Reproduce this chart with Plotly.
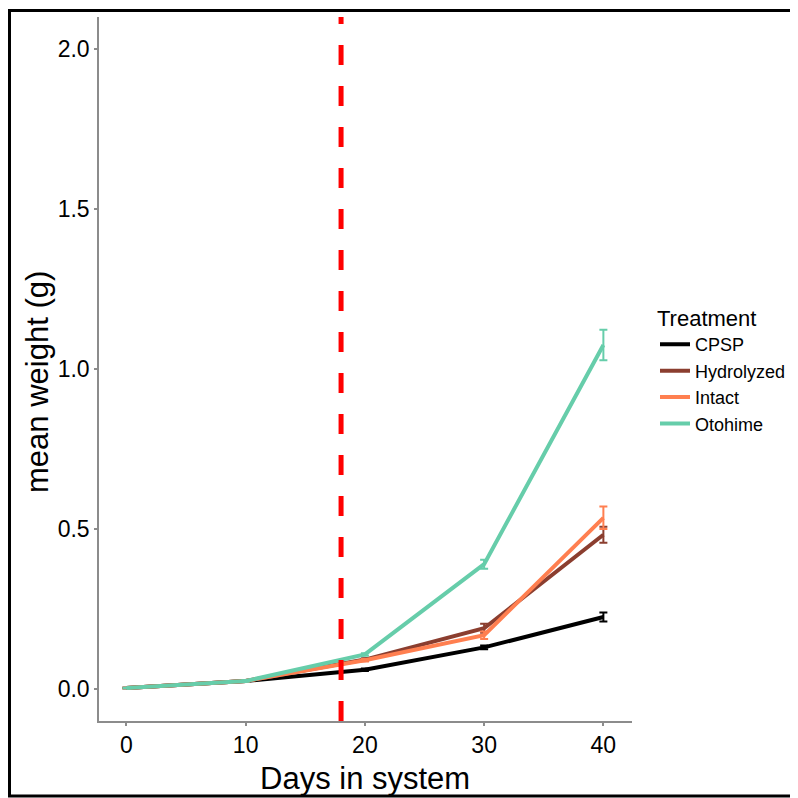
import plotly.graph_objects as go

days = [0, 10, 20, 30, 40]
treatments = ["CPSP", "Hydrolyzed", "Intact", "Otohime"]
cpsp = [0.003, 0.025, 0.060, 0.130, 0.225]
cpsp_err = [0.001, 0.002, 0.004, 0.006, 0.014]
hydrolyzed = [0.003, 0.025, 0.092, 0.190, 0.482]
hydrolyzed_err = [0.001, 0.002, 0.004, 0.014, 0.025]
intact = [0.003, 0.025, 0.090, 0.168, 0.535]
intact_err = [0.001, 0.002, 0.004, 0.012, 0.035]
otohime = [0.003, 0.025, 0.108, 0.390, 1.075]
otohime_err = [0.001, 0.002, 0.004, 0.014, 0.048]
colors = ["#000000", "#8B3E2F", "#FF7F50", "#66CDAA"]
vline_day = 18

series = [cpsp, hydrolyzed, intact, otohime]
errors = [cpsp_err, hydrolyzed_err, intact_err, otohime_err]

FONT = "Liberation Sans, Arial, sans-serif"
FW, FH = 790, 790          # page has an 8px body margin
L, R, T, B = 91, 624, 9, 713
W = R - L
H = B - T

fig = go.Figure()
for name, ys, es, c in zip(treatments, series, errors, colors):
    fig.add_trace(go.Scatter(
        x=days, y=ys, name=name, mode="lines",
        line=dict(color=c, width=4),
        error_y=dict(type="data", array=es, visible=True, color=c, thickness=2, width=4),
    ))

fig.add_shape(type="line", xref="x", yref="paper", x0=vline_day, x1=vline_day, y0=0, y1=1,
              line=dict(color="#FF0000", width=5, dash="20px,21px"), layer="above")

# outer frame
fig.add_shape(type="rect", xref="paper", yref="paper",
              x0=(1.5 - L) / W, x1=(800 - L) / W,
              y0=-(788 - B) / H, y1=1 + (T - 2.5) / H,
              line=dict(color="black", width=3), fillcolor="rgba(0,0,0,0)", layer="below")

axis_common = dict(
    showgrid=False, zeroline=False, showline=True, linecolor="#8c8c8c", linewidth=1.5,
    ticks="outside", ticklen=3, tickcolor="#8c8c8c", tickwidth=1.5, automargin=False,
    tickfont=dict(family=FONT, size=23, color="black"),
)
fig.update_xaxes(range=[-2.3, 42.4], tickvals=[0, 10, 20, 30, 40], **axis_common)
fig.update_yaxes(range=[-0.1, 2.1], tickvals=[0, 0.5, 1.0, 1.5, 2.0],
                 ticktext=["0.0", "0.5", "1.0", "1.5", "2.0"], **axis_common)

fig.add_annotation(text="Days in system", xref="paper", yref="paper",
                   x=(357 - L) / W, y=-(770 - B) / H, xanchor="center", yanchor="middle",
                   showarrow=False, font=dict(family=FONT, size=31, color="black"))
fig.add_annotation(text="mean weight (g)", xref="paper", yref="paper",
                   x=(29 - L) / W, y=(B - 374) / H, xanchor="center", yanchor="middle",
                   textangle=-90, showarrow=False, font=dict(family=FONT, size=31, color="black"))

fig.update_layout(
    width=FW, height=FH,
    margin=dict(l=L, r=FW - R, t=T, b=FH - B, autoexpand=False),
    paper_bgcolor="white", plot_bgcolor="white",
    font=dict(family=FONT, color="black"),
    legend=dict(
        title=dict(text="Treatment", font=dict(size=22)),
        font=dict(size=18), x=(647 - L) / W, xanchor="left", y=(B - 362) / H, yanchor="middle",
        tracegroupgap=0, itemwidth=30,
    ),
)

fig.write_html("out.html")
